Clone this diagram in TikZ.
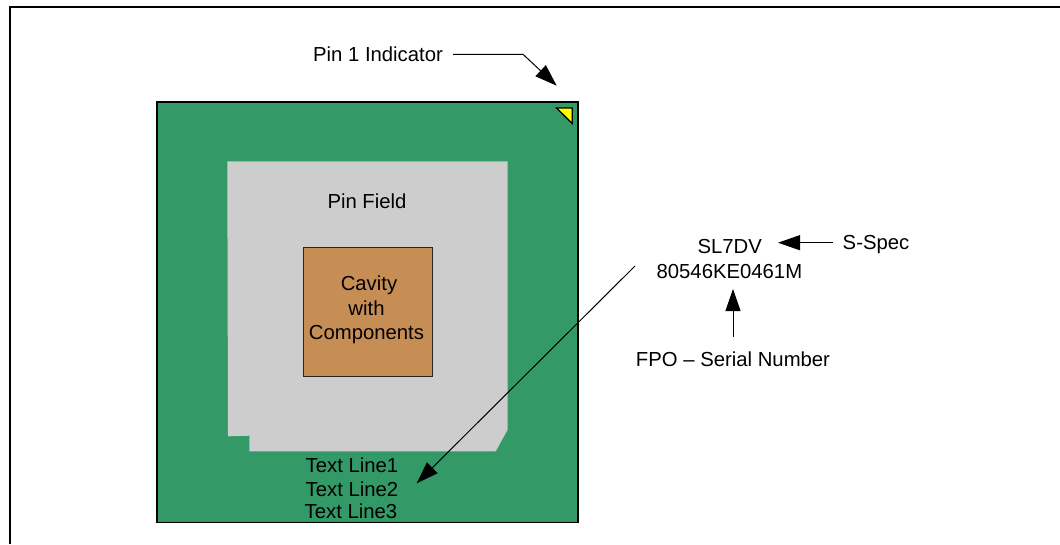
\documentclass[tikz,border=0pt]{standalone}
\usepackage{fontspec}
\setmainfont{Liberation Sans}
\usetikzlibrary{arrows.meta}
\definecolor{pkggreen}{HTML}{339966}
\definecolor{fieldgray}{HTML}{CDCDCD}
\definecolor{cavity}{HTML}{C68E55}
\definecolor{pinyellow}{HTML}{FFFF00}
\tikzset{
  x=1pt,y=-1pt,
  lab/.style={font=\fontsize{20.3}{24.5}\selectfont,text=black,inner sep=0pt,align=center,anchor=base},
  arr/.style={draw=black,line width=1pt,-{Triangle[length=22pt,width=15pt]}},
}
\begin{document}
\begin{tikzpicture}
\useasboundingbox (0,0) rectangle (1060,544);
\fill[white] (0,0) rectangle (1060,544);
\draw[black,line width=2pt,line cap=butt] (10,544) -- (10,7) -- (1060,7);
\node[draw=black,fill=pkggreen,line width=1.5pt,outer sep=0pt,minimum width=421pt,minimum height=420.5pt,inner sep=0pt,anchor=north west] (pkg) at (157,102) {};
\fill[fieldgray] (227.3,161.3) -- (507.5,161.3) -- (507.5,430) -- (495.7,451.3) -- (249.3,451.3) -- (249.3,435.7) -- (228,436.3) -- cycle;
\node[draw=black!85,fill=cavity,line width=1pt,outer sep=0pt,minimum width=129pt,minimum height=128.5pt,inner sep=0pt,anchor=north west] (cav) at (303.2,247.8) {};
\draw[black,fill=pinyellow,line width=1.3pt,line join=miter] (556.5,108) -- (572.2,108) -- (572.2,123.5) -- cycle;
\node[lab] (ind) at (378,61) {Pin 1 Indicator};
\node[lab] (pf) at (367,208) {Pin Field};
\node[lab,anchor=center] (cv) at (366.5,309.8) {\hspace*{5pt}Cavity\\with\\Components};
\node[lab] (t1) at (352,472.7) {Text Line1};
\node[lab] (t2) at (352,496) {Text Line2};
\node[lab] (t3) at (351,518.7) {Text Line3};
\node[lab] (sl) at (729.7,253) {SL7DV};
\node[lab] (num) at (729.4,278) {80546KE0461M};
\node[lab] (ss) at (876,249) {S-Spec};
\node[lab] (fpo) at (733,366) {FPO – Serial Number};
\coordinate (a1) at (453,54.3);
\coordinate (a2) at (523,54.3);
\coordinate (a3) at (556.7,85.7);
\draw[arr] (a1) -- (a2) -- (a3);
\coordinate (b1) at (635,266);
\coordinate (b2) at (416.7,483.3);
\draw[arr] (b1) -- (b2);
\coordinate (c1) at (832.7,242.7);
\coordinate (c2) at (778,242.7);
\draw[arr] (c1) -- (c2);
\coordinate (d1) at (733,337);
\coordinate (d2) at (733,289);
\draw[arr] (d1) -- (d2);
\end{tikzpicture}
\end{document}
